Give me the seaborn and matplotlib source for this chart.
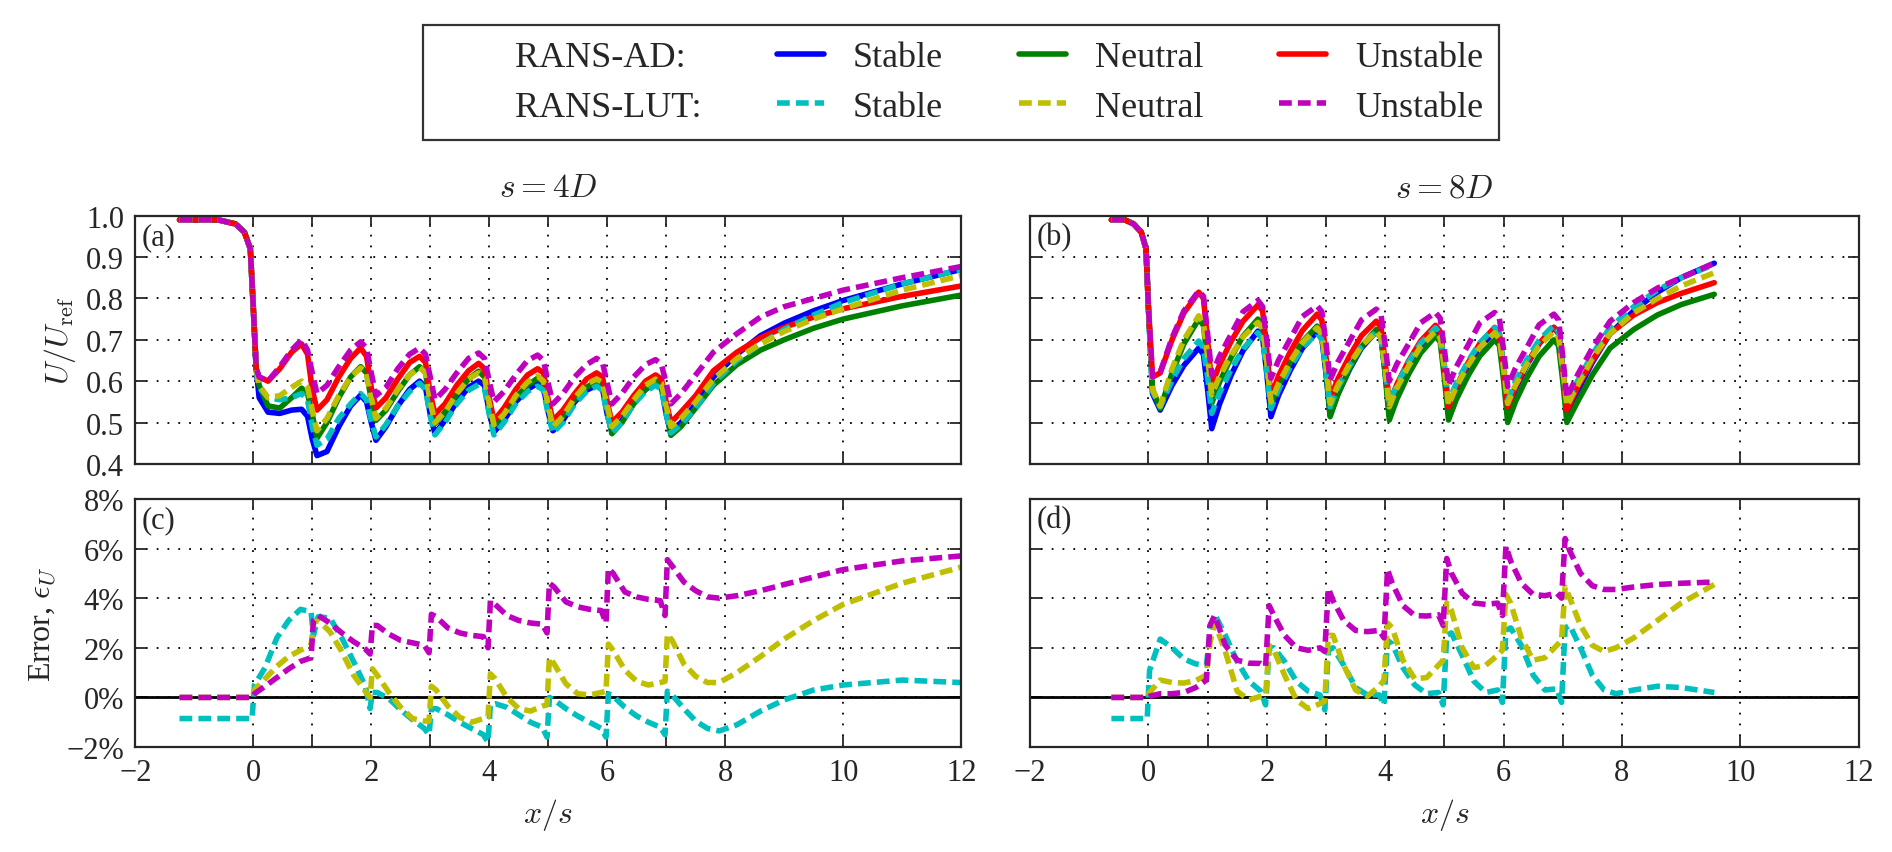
import matplotlib
matplotlib.use("Agg")
import matplotlib.pyplot as plt
from matplotlib.lines import Line2D
from matplotlib.ticker import PercentFormatter, FormatStrFormatter
import seaborn as sns

# ---- x positions (x/s) ----
x_4d = [-1.25, -0.6, -0.3, -0.15, -0.05,
        0.0, 0.05, 0.1, 0.25, 0.45, 0.65, 0.82, 0.92,
        1.0, 1.08, 1.25, 1.45, 1.65, 1.82, 1.92,
        2.0, 2.08, 2.25, 2.45, 2.65, 2.82, 2.92,
        3.0, 3.08, 3.25, 3.45, 3.65, 3.82, 3.92,
        4.0, 4.08, 4.25, 4.45, 4.65, 4.82, 4.92,
        5.0, 5.08, 5.25, 5.45, 5.65, 5.82, 5.92,
        6.0, 6.08, 6.25, 6.45, 6.65, 6.82, 6.92,
        7.0, 7.08, 7.25, 7.5, 7.8, 8.2, 8.6, 9.0, 9.5, 10.0, 11.0, 12.0]

x_8d = [-0.625, -0.4, -0.25, -0.12, -0.04,
        0.0, 0.07, 0.2, 0.4, 0.6, 0.85, 0.93,
        1.0, 1.07, 1.2, 1.4, 1.6, 1.85, 1.93,
        2.0, 2.07, 2.2, 2.4, 2.6, 2.85, 2.93,
        3.0, 3.07, 3.2, 3.4, 3.6, 3.85, 3.93,
        4.0, 4.07, 4.2, 4.4, 4.6, 4.85, 4.93,
        5.0, 5.07, 5.2, 5.4, 5.6, 5.85, 5.93,
        6.0, 6.07, 6.2, 6.4, 6.6, 6.85, 6.93,
        7.0, 7.07, 7.25, 7.5, 7.8, 8.2, 8.6, 9.0, 9.56]

xe_4d = [-1.25, -0.02, 0.02, 0.2, 0.4, 0.6, 0.8,
         0.98, 1.02, 1.1, 1.3, 1.5, 1.7, 1.9,
         1.98, 2.02, 2.1, 2.3, 2.5, 2.7, 2.9,
         2.98, 3.02, 3.1, 3.3, 3.5, 3.7, 3.9,
         3.98, 4.02, 4.1, 4.3, 4.5, 4.7, 4.9,
         4.98, 5.02, 5.1, 5.3, 5.5, 5.7, 5.9,
         5.98, 6.02, 6.1, 6.3, 6.5, 6.7, 6.9,
         6.98, 7.02, 7.1, 7.3, 7.5, 7.7, 7.9,
         8.2, 8.6, 9.0, 9.5, 10.0, 11.0, 12.0]

xe_8d = [-0.625, -0.02, 0.02, 0.2, 0.4, 0.6, 0.8,
         0.98, 1.04, 1.12, 1.3, 1.5, 1.7, 1.9,
         1.98, 2.04, 2.12, 2.3, 2.5, 2.7, 2.9,
         2.98, 3.04, 3.12, 3.3, 3.5, 3.7, 3.9,
         3.98, 4.04, 4.12, 4.3, 4.5, 4.7, 4.9,
         4.98, 5.04, 5.12, 5.3, 5.5, 5.7, 5.9,
         5.98, 6.04, 6.12, 6.3, 6.5, 6.7, 6.9,
         6.98, 7.04, 7.12, 7.3, 7.5, 7.7, 7.9,
         8.2, 8.6, 9.0, 9.56]

# ---- U/Uref, s = 4D ----
u4_ad_stable = [0.99, 0.99, 0.98, 0.96, 0.92,
                0.78, 0.63, 0.56, 0.525, 0.522, 0.53, 0.532, 0.515,
                0.46, 0.42, 0.43, 0.49, 0.54, 0.566, 0.55,
                0.50, 0.457, 0.49, 0.54, 0.58, 0.60, 0.585,
                0.52, 0.473, 0.505, 0.55, 0.585, 0.60, 0.59,
                0.525, 0.477, 0.505, 0.55, 0.58, 0.595, 0.585,
                0.525, 0.48, 0.505, 0.55, 0.578, 0.59, 0.582,
                0.52, 0.477, 0.505, 0.55, 0.58, 0.595, 0.585,
                0.52, 0.473, 0.50, 0.545, 0.61, 0.665, 0.71, 0.74, 0.77, 0.795, 0.835, 0.87]
u4_ad_neutral = [0.99, 0.99, 0.98, 0.96, 0.92,
                 0.78, 0.63, 0.59, 0.54, 0.535, 0.56, 0.583, 0.57,
                 0.52, 0.462, 0.50, 0.56, 0.61, 0.635, 0.62,
                 0.555, 0.505, 0.53, 0.575, 0.615, 0.635, 0.62,
                 0.55, 0.497, 0.525, 0.57, 0.605, 0.624, 0.61,
                 0.545, 0.493, 0.52, 0.56, 0.59, 0.607, 0.597,
                 0.54, 0.488, 0.515, 0.555, 0.585, 0.60, 0.59,
                 0.53, 0.473, 0.50, 0.545, 0.58, 0.60, 0.59,
                 0.53, 0.469, 0.49, 0.535, 0.59, 0.64, 0.675, 0.70, 0.728, 0.75, 0.782, 0.808]
u4_ad_unstable = [0.99, 0.99, 0.98, 0.96, 0.92,
                  0.78, 0.63, 0.61, 0.60, 0.63, 0.67, 0.69, 0.665,
                  0.58, 0.53, 0.555, 0.61, 0.655, 0.68, 0.66,
                  0.585, 0.535, 0.56, 0.605, 0.645, 0.66, 0.645,
                  0.57, 0.52, 0.545, 0.59, 0.625, 0.643, 0.63,
                  0.56, 0.505, 0.535, 0.58, 0.615, 0.63, 0.62,
                  0.555, 0.505, 0.53, 0.57, 0.605, 0.62, 0.61,
                  0.55, 0.50, 0.525, 0.565, 0.60, 0.615, 0.605,
                  0.55, 0.50, 0.525, 0.565, 0.625, 0.67, 0.705, 0.73, 0.755, 0.775, 0.805, 0.83]
u4_lut_stable = [0.99, 0.99, 0.98, 0.96, 0.92,
                 0.78, 0.63, 0.585, 0.56, 0.555, 0.56, 0.57, 0.555,
                 0.49, 0.445, 0.46, 0.51, 0.545, 0.57, 0.555,
                 0.505, 0.465, 0.495, 0.54, 0.575, 0.595, 0.58,
                 0.515, 0.47, 0.50, 0.545, 0.578, 0.592, 0.582,
                 0.52, 0.47, 0.50, 0.545, 0.575, 0.588, 0.578,
                 0.52, 0.475, 0.50, 0.545, 0.575, 0.588, 0.578,
                 0.52, 0.475, 0.50, 0.545, 0.575, 0.59, 0.58,
                 0.52, 0.475, 0.495, 0.535, 0.595, 0.65, 0.69, 0.725, 0.76, 0.79, 0.835, 0.87]
u4_lut_neutral = [0.99, 0.99, 0.98, 0.96, 0.92,
                  0.78, 0.63, 0.59, 0.56, 0.565, 0.585, 0.60, 0.585,
                  0.53, 0.48, 0.51, 0.565, 0.61, 0.632, 0.62,
                  0.56, 0.51, 0.535, 0.58, 0.615, 0.633, 0.62,
                  0.55, 0.50, 0.525, 0.57, 0.605, 0.62, 0.61,
                  0.545, 0.495, 0.52, 0.565, 0.598, 0.612, 0.60,
                  0.54, 0.49, 0.515, 0.56, 0.593, 0.605, 0.597,
                  0.54, 0.49, 0.515, 0.555, 0.59, 0.605, 0.595,
                  0.54, 0.49, 0.51, 0.55, 0.605, 0.655, 0.69, 0.72, 0.75, 0.775, 0.82, 0.855]
u4_lut_unstable = [0.99, 0.99, 0.98, 0.96, 0.92,
                   0.78, 0.63, 0.61, 0.60, 0.635, 0.675, 0.70, 0.675,
                   0.62, 0.57, 0.59, 0.635, 0.675, 0.695, 0.68,
                   0.62, 0.565, 0.585, 0.63, 0.665, 0.68, 0.665,
                   0.61, 0.555, 0.58, 0.62, 0.655, 0.668, 0.655,
                   0.60, 0.55, 0.575, 0.615, 0.65, 0.663, 0.65,
                   0.595, 0.545, 0.57, 0.61, 0.64, 0.655, 0.645,
                   0.595, 0.545, 0.57, 0.61, 0.64, 0.652, 0.64,
                   0.595, 0.545, 0.57, 0.615, 0.67, 0.715, 0.755, 0.78, 0.80, 0.82, 0.85, 0.877]

# ---- U/Uref, s = 8D ----
u8_ad_stable = [0.99, 0.99, 0.98, 0.96, 0.92,
                0.78, 0.57, 0.53, 0.59, 0.638, 0.68, 0.665,
                0.58, 0.485, 0.544, 0.615, 0.674, 0.721, 0.705,
                0.618, 0.514, 0.566, 0.627, 0.679, 0.72, 0.705,
                0.619, 0.518, 0.569, 0.629, 0.68, 0.72, 0.705,
                0.621, 0.522, 0.573, 0.634, 0.684, 0.725, 0.71,
                0.627, 0.53, 0.578, 0.635, 0.682, 0.72, 0.705,
                0.625, 0.53, 0.58, 0.64, 0.69, 0.73, 0.715,
                0.63, 0.52, 0.575, 0.645, 0.715, 0.77, 0.815, 0.85, 0.885]
u8_ad_neutral = [0.99, 0.99, 0.98, 0.96, 0.92,
                 0.78, 0.58, 0.534, 0.62, 0.69, 0.75, 0.735,
                 0.648, 0.546, 0.597, 0.658, 0.709, 0.75, 0.735,
                 0.646, 0.542, 0.59, 0.647, 0.695, 0.733, 0.718,
                 0.624, 0.514, 0.567, 0.63, 0.683, 0.725, 0.71,
                 0.616, 0.506, 0.557, 0.618, 0.668, 0.709, 0.695,
                 0.608, 0.506, 0.555, 0.613, 0.661, 0.70, 0.686,
                 0.603, 0.50, 0.55, 0.61, 0.66, 0.70, 0.686,
                 0.60, 0.50, 0.55, 0.615, 0.68, 0.725, 0.76, 0.785, 0.81]
u8_ad_unstable = [0.99, 0.99, 0.98, 0.96, 0.92,
                  0.78, 0.61, 0.62, 0.70, 0.765, 0.815, 0.80,
                  0.70, 0.59, 0.639, 0.697, 0.745, 0.784, 0.77,
                  0.674, 0.563, 0.613, 0.672, 0.722, 0.762, 0.748,
                  0.66, 0.558, 0.605, 0.661, 0.71, 0.745, 0.73,
                  0.646, 0.546, 0.593, 0.65, 0.697, 0.735, 0.72,
                  0.636, 0.538, 0.586, 0.644, 0.691, 0.73, 0.715,
                  0.634, 0.538, 0.586, 0.644, 0.691, 0.73, 0.715,
                  0.63, 0.53, 0.585, 0.65, 0.715, 0.76, 0.79, 0.812, 0.838]
u8_lut_stable = [0.99, 0.99, 0.98, 0.96, 0.92,
                 0.78, 0.575, 0.538, 0.602, 0.655, 0.697, 0.68,
                 0.61, 0.522, 0.571, 0.629, 0.678, 0.717, 0.70,
                 0.625, 0.534, 0.58, 0.635, 0.68, 0.717, 0.70,
                 0.628, 0.538, 0.584, 0.638, 0.684, 0.72, 0.705,
                 0.633, 0.546, 0.592, 0.647, 0.692, 0.729, 0.714,
                 0.64, 0.55, 0.595, 0.648, 0.693, 0.729, 0.714,
                 0.642, 0.554, 0.599, 0.654, 0.699, 0.735, 0.72,
                 0.645, 0.55, 0.60, 0.665, 0.73, 0.78, 0.82, 0.85, 0.882]
u8_lut_neutral = [0.99, 0.99, 0.98, 0.96, 0.92,
                  0.78, 0.58, 0.54, 0.63, 0.70, 0.758, 0.74,
                  0.662, 0.567, 0.611, 0.663, 0.707, 0.742, 0.727,
                  0.646, 0.55, 0.595, 0.648, 0.693, 0.729, 0.714,
                  0.637, 0.546, 0.59, 0.642, 0.685, 0.72, 0.705,
                  0.629, 0.538, 0.584, 0.638, 0.684, 0.72, 0.705,
                  0.631, 0.542, 0.586, 0.638, 0.682, 0.717, 0.702,
                  0.631, 0.546, 0.59, 0.642, 0.685, 0.72, 0.705,
                  0.63, 0.54, 0.59, 0.655, 0.715, 0.765, 0.80, 0.83, 0.862]
u8_lut_unstable = [0.99, 0.99, 0.98, 0.96, 0.92,
                   0.78, 0.61, 0.622, 0.705, 0.77, 0.818, 0.805,
                   0.716, 0.615, 0.66, 0.714, 0.768, 0.795, 0.78,
                   0.70, 0.607, 0.651, 0.703, 0.756, 0.782, 0.768,
                   0.692, 0.603, 0.646, 0.697, 0.748, 0.774, 0.76,
                   0.687, 0.60, 0.642, 0.691, 0.741, 0.766, 0.752,
                   0.678, 0.59, 0.634, 0.687, 0.741, 0.766, 0.752,
                   0.676, 0.587, 0.631, 0.683, 0.736, 0.762, 0.748,
                   0.66, 0.56, 0.615, 0.68, 0.745, 0.79, 0.825, 0.85, 0.885]

# ---- error (%), s = 4D ----
e4_stable = [-0.85, -0.85, 0.5, 1.2, 2.4, 3.1, 3.55,
             3.45, 2.5, 3.25, 3.2, 2.4, 1.45, 0.45,
             -0.45, 0.2, 0.2, -0.05, -0.5, -0.9, -1.25,
             -1.5, -0.45, -0.45, -0.7, -1.0, -1.25, -1.5,
             -1.8, -0.3, -0.25, -0.4, -0.7, -1.0, -1.2,
             -1.6, 0.0, -0.1, -0.45, -0.75, -1.0, -1.25,
             -1.6, 0.15, 0.05, -0.4, -0.75, -1.0, -1.2,
             -1.5, 0.25, 0.1, -0.45, -0.95, -1.25, -1.35,
             -1.1, -0.55, -0.1, 0.3, 0.5, 0.7, 0.6]
e4_neutral = [0.0, 0.0, 0.3, 0.75, 1.25, 1.65, 1.9,
              2.1, 3.0, 3.1, 2.65, 1.85, 0.9, 0.25,
              0.0, 1.15, 0.9, 0.2, -0.4, -0.85, -0.95,
              -0.95, 0.45, 0.3, -0.35, -0.8, -1.0, -0.85,
              -0.8, 0.95, 0.75, 0.0, -0.45, -0.55, -0.35,
              -0.3, 1.6, 1.35, 0.55, 0.15, 0.1, 0.2,
              0.25, 2.15, 1.9, 1.1, 0.65, 0.5, 0.6,
              0.65, 2.55, 2.3, 1.35, 0.85, 0.6, 0.6,
              1.0, 1.65, 2.35, 3.1, 3.75, 4.6, 5.25]
e4_unstable = [0.0, 0.0, 0.15, 0.45, 0.8, 1.15, 1.45,
               1.6, 3.1, 3.3, 3.0, 2.6, 2.25, 1.95,
               1.75, 2.9, 2.9, 2.55, 2.3, 2.2, 2.1,
               1.8, 3.35, 3.25, 2.8, 2.6, 2.5, 2.45,
               2.0, 3.9, 3.75, 3.3, 3.1, 3.0, 2.95,
               2.6, 4.6, 4.45, 3.85, 3.65, 3.55, 3.5,
               3.0, 5.2, 5.0, 4.25, 4.05, 3.95, 3.9,
               3.3, 5.55, 5.3, 4.65, 4.3, 4.05, 4.0,
               4.1, 4.3, 4.55, 4.85, 5.15, 5.5, 5.7]

# ---- error (%), s = 8D ----
e8_stable = [-0.85, -0.85, 1.1, 2.35, 2.0, 1.55, 1.35,
             1.3, 2.6, 3.35, 2.5, 1.45, 0.65, 0.25,
             -0.3, 2.0, 2.0, 1.45, 0.65, 0.25, 0.1,
             -0.5, 1.9, 2.0, 1.3, 0.4, 0.1, 0.1,
             -0.3, 2.3, 2.15, 1.2, 0.5, 0.15, 0.2,
             -0.3, 2.5, 2.6, 1.7, 0.65, 0.2, 0.3,
             -0.2, 2.7, 2.8, 2.1, 0.9, 0.3, 0.35,
             -0.2, 2.8, 2.9, 2.0, 0.9, 0.3, 0.15,
             0.3, 0.45, 0.4, 0.2]
e8_neutral = [0.0, 0.0, 0.2, 0.7, 0.6, 0.58, 0.68,
              0.9, 2.2, 3.0, 1.85, 0.25, -0.1, 0.05,
              0.1, 2.1, 1.9, 0.9, -0.1, -0.45, -0.25,
              -0.15, 2.5, 2.5, 1.3, 0.3, 0.05, 0.45,
              0.7, 3.0, 2.8, 1.5, 0.75, 0.8, 1.3,
              1.5, 3.8, 3.5, 2.0, 1.2, 1.3, 1.7,
              1.9, 4.15, 3.8, 2.4, 1.5, 1.6, 2.1,
              2.3, 4.45, 4.0, 2.9, 2.1, 1.85, 2.0,
              2.4, 3.1, 3.8, 4.55]
e8_unstable = [0.0, 0.0, 0.05, 0.15, 0.15, 0.2, 0.4,
               0.7, 2.9, 3.3, 2.1, 1.5, 1.38, 1.37,
               1.25, 3.7, 3.3, 2.5, 2.0, 1.9, 2.0,
               1.85, 4.4, 3.9, 3.1, 2.7, 2.65, 2.7,
               2.4, 5.15, 4.6, 3.7, 3.3, 3.28, 3.33,
               2.9, 5.6, 5.0, 4.2, 3.8, 3.75, 3.8,
               3.3, 6.1, 5.5, 4.6, 4.15, 4.1, 4.2,
               4.0, 6.4, 5.9, 5.0, 4.5, 4.35, 4.35,
               4.45, 4.55, 4.6, 4.65]

col = {"stable_ad": "#0000ff", "neutral_ad": "#008000", "unstable_ad": "#ff0000",
       "stable_lut": "#00bfbf", "neutral_lut": "#bfbf00", "unstable_lut": "#bf00bf"}
dash = (0, (2.3, 1.1))
lw = 4.0

sns.set_style("ticks")
plt.rcParams["font.family"] = ["Liberation Serif", "DejaVu Serif"]
plt.rcParams["mathtext.fontset"] = "cm"
plt.rcParams["axes.linewidth"] = 1.6

fig = plt.figure(figsize=(18.92, 8.53), dpi=100)
ax_a = fig.add_axes([0.0715, 0.455, 0.4365, 0.291])
ax_b = fig.add_axes([0.5444, 0.455, 0.4380, 0.291])
ax_c = fig.add_axes([0.0715, 0.123, 0.4365, 0.291])
ax_d = fig.add_axes([0.5444, 0.123, 0.4380, 0.291])


def line(ax, x, y, c, ls="-"):
    sns.lineplot(x=x, y=y, ax=ax, color=c, linestyle=ls, lw=lw,
                 estimator=None, sort=False, legend=False)


for ax, x, ad, lut in [(ax_a, x_4d, [u4_ad_stable, u4_ad_neutral, u4_ad_unstable],
                        [u4_lut_stable, u4_lut_neutral, u4_lut_unstable]),
                       (ax_b, x_8d, [u8_ad_stable, u8_ad_neutral, u8_ad_unstable],
                        [u8_lut_stable, u8_lut_neutral, u8_lut_unstable])]:
    line(ax, x, ad[0], col["stable_ad"])
    line(ax, x, ad[1], col["neutral_ad"])
    line(ax, x, ad[2], col["unstable_ad"])
    line(ax, x, lut[0], col["stable_lut"], dash)
    line(ax, x, lut[1], col["neutral_lut"], dash)
    line(ax, x, lut[2], col["unstable_lut"], dash)
    ax.set_ylim(0.4, 1.0)
    ax.set_yticks([0.4, 0.5, 0.6, 0.7, 0.8, 0.9, 1.0])
    ax.yaxis.set_major_formatter(FormatStrFormatter("%.1f"))
    ax.set_xticklabels([])

for ax, x, errs in [(ax_c, xe_4d, [e4_stable, e4_neutral, e4_unstable]),
                    (ax_d, xe_8d, [e8_stable, e8_neutral, e8_unstable])]:
    ax.axhline(0, color="k", lw=2.0, zorder=1)
    line(ax, x, errs[0], col["stable_lut"], dash)
    line(ax, x, errs[1], col["neutral_lut"], dash)
    line(ax, x, errs[2], col["unstable_lut"], dash)
    ax.set_ylim(-2, 8)
    ax.set_yticks([-2, 0, 2, 4, 6, 8])
    ax.yaxis.set_major_formatter(PercentFormatter(xmax=100, decimals=0))
    ax.set_xlabel("$x/s$", fontsize=23, labelpad=6)

for ax, tag in [(ax_a, "(a)"), (ax_b, "(b)"), (ax_c, "(c)"), (ax_d, "(d)")]:
    ax.set_xlim(-2, 12)
    ax.set_xticks([-2, 0, 2, 4, 6, 8, 10, 12])
    ax.set_xticks([1, 3, 5, 7], minor=True)
    ax.grid(True, which="both", axis="x", color="k", lw=1.3, linestyle=(0, (1, 5)))
    ax.grid(True, which="major", axis="y", color="k", lw=1.3, linestyle=(0, (1, 5)))
    ax.tick_params(which="both", direction="in", top=True, right=True,
                   length=8, width=1.3, labelsize=22, pad=8)
    ax.text(0.008, 0.975, tag, transform=ax.transAxes, ha="left", va="top", fontsize=22)
    ax.set_ylabel("")

ax_b.set_yticklabels([])
ax_d.set_yticklabels([])
ax_a.set_ylabel(r"$U/U_{\mathrm{ref}}$", fontsize=23, labelpad=6)
ax_c.set_ylabel(r"Error, $\epsilon_U$", fontsize=23, labelpad=6)
ax_a.set_title("$s=4D$", fontsize=24, pad=14)
ax_b.set_title("$s=8D$", fontsize=24, pad=14)

blank = Line2D([], [], color="none")
handles = [blank, blank,
           Line2D([], [], color=col["stable_ad"], lw=lw),
           Line2D([], [], color=col["stable_lut"], lw=lw, linestyle=dash),
           Line2D([], [], color=col["neutral_ad"], lw=lw),
           Line2D([], [], color=col["neutral_lut"], lw=lw, linestyle=dash),
           Line2D([], [], color=col["unstable_ad"], lw=lw),
           Line2D([], [], color=col["unstable_lut"], lw=lw, linestyle=dash)]
labels = ["RANS-AD:", "RANS-LUT:", "Stable", "Stable", "Neutral", "Neutral",
          "Unstable", "Unstable"]
leg = fig.legend(handles, labels, ncol=4, loc="center", bbox_to_anchor=(0.508, 0.902),
                 frameon=True, fancybox=False, edgecolor="k", fontsize=26,
                 handlelength=1.3, handletextpad=0.8, columnspacing=2.1,
                 labelspacing=0.45, borderpad=0.45)
leg.get_frame().set_linewidth(1.6)

fig.savefig("out.png", dpi=100)
